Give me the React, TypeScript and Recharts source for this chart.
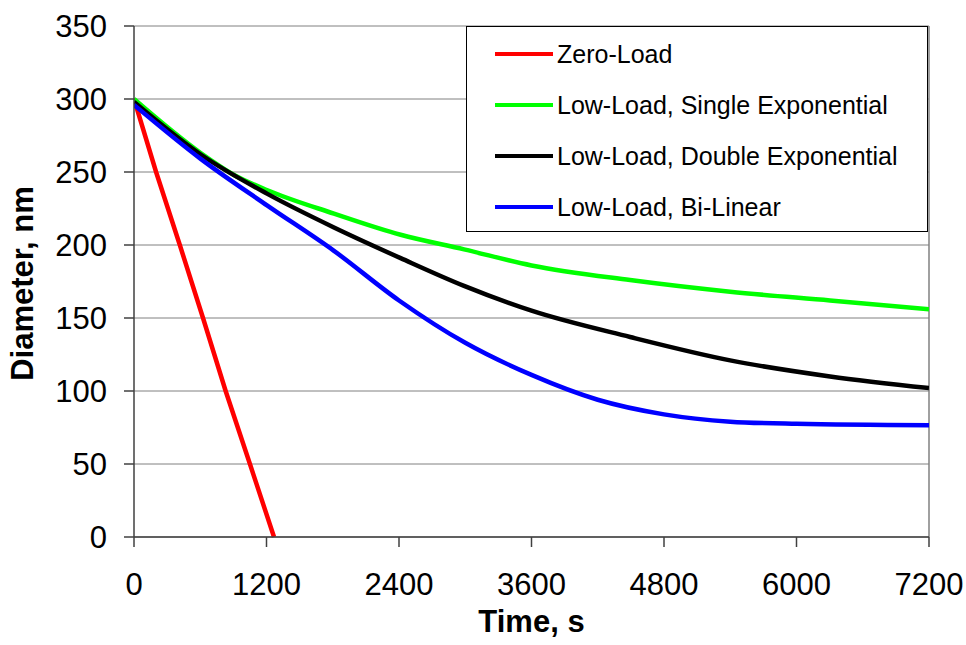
import React from "react";
import { LineChart, Line, XAxis, YAxis, CartesianGrid, Legend, ReferenceLine } from "recharts";

const FONT = '"Liberation Sans", Arial, Helvetica, sans-serif';

const timeTicks = [0, 1200, 2400, 3600, 4800, 6000, 7200];
const diameterTicks = [0, 50, 100, 150, 200, 250, 300, 350];

const zeroLoadTime = [0, 200, 415, 625, 830, 1050, 1268];
const zeroLoadDiameter = [300, 250, 200, 150, 100, 50, 0];

const singleExpTime = [0, 604, 906, 1208, 1811, 2415, 2989, 3600, 4493, 5399, 6304, 7200];
const singleExpDiameter = [300, 263, 248, 237.5, 221.5, 207, 197, 186, 176, 168, 162, 156];

const doubleExpTime = [0, 604, 1208, 1811, 2415, 2989, 3600, 4493, 5399, 6304, 7200];
const doubleExpDiameter = [298, 262, 235, 212, 191, 172, 155, 137, 121, 110, 102];

const biLinearTime = [0, 604, 1208, 1811, 2400, 3000, 3600, 4200, 4800, 5400, 6000, 7200];
const biLinearDiameter = [296, 259, 227, 196, 162, 133, 111, 94, 84, 79, 77.5, 76.5];

const seriesNames = [
  "Zero-Load",
  "Low-Load, Single Exponential",
  "Low-Load, Double Exponential",
  "Low-Load, Bi-Linear",
];
const seriesColors = ["#ff0000", "#00ff00", "#000000", "#0000ff"];

const toPoints = (ts: number[], ds: number[]) => ts.map((t, i) => ({ t, d: ds[i] }));

const seriesData = [
  toPoints(zeroLoadTime, zeroLoadDiameter),
  toPoints(singleExpTime, singleExpDiameter),
  toPoints(doubleExpTime, doubleExpDiameter),
  toPoints(biLinearTime, biLinearDiameter),
];

const renderLegend = (props: any) => {
  const payload = [...(props.payload || [])].sort(
    (a: any, b: any) => seriesNames.indexOf(a.value) - seriesNames.indexOf(b.value)
  );
  return (
    <div
      style={{
        position: "relative",
        width: 462,
        height: 206,
        boxSizing: "border-box",
        border: "1px solid #000",
        background: "#fff",
        fontFamily: FONT,
      }}
    >
      {payload.map((entry: any, i: number) => (
        <div
          key={i}
          style={{
            position: "absolute",
            left: 28,
            top: 27 + i * 51 - 15,
            height: 30,
            display: "flex",
            alignItems: "center",
            whiteSpace: "nowrap",
          }}
        >
          <div style={{ width: 58, height: 4, background: entry.color }} />
          <span style={{ marginLeft: 4, fontSize: 25, color: "#000", lineHeight: "30px" }}>
            {entry.value}
          </span>
        </div>
      ))}
    </div>
  );
};

const YLabel = (props: any) => {
  const vb = props.viewBox || { x: 0, y: 26, width: 134, height: 511 };
  const cy = vb.y + vb.height / 2 + 2;
  return (
    <text
      x={33}
      y={cy}
      transform={`rotate(-90, 33, ${cy})`}
      textAnchor="middle"
      fontFamily={FONT}
      fontWeight="bold"
      fontSize={31}
      fill="#000"
    >
      Diameter, nm
    </text>
  );
};

export default function App() {
  return (
    <div style={{ position: "absolute", left: 0, top: 0, background: "#fff" }}>
      <LineChart
        width={966}
        height={645}
        margin={{ top: 26, right: 37, bottom: 0, left: 0 }}
        style={{ fontFamily: FONT }}
      >
        <CartesianGrid horizontal vertical={false} stroke="#808080" strokeWidth={1} />
        <ReferenceLine x={7200} stroke="#808080" strokeWidth={1.5} />
        <XAxis
          type="number"
          dataKey="t"
          domain={[0, 7200]}
          ticks={timeTicks}
          allowDataOverflow
          interval={0}
          height={108}
          tickSize={10}
          tickMargin={26}
          axisLine={{ stroke: "#404040", strokeWidth: 1.5 }}
          tickLine={{ stroke: "#404040", strokeWidth: 1.5 }}
          tick={{ fill: "#000", fontSize: 31, fontFamily: FONT }}
          label={{
            value: "Time, s",
            position: "insideBottom",
            offset: 13,
            fill: "#000",
            fontSize: 31,
            fontWeight: "bold",
            fontFamily: FONT,
          }}
        />
        <YAxis
          type="number"
          dataKey="d"
          domain={[0, 350]}
          ticks={diameterTicks}
          interval={0}
          width={134}
          tickSize={10}
          tickMargin={17}
          axisLine={{ stroke: "#404040", strokeWidth: 1.5 }}
          tickLine={{ stroke: "#404040", strokeWidth: 1.5 }}
          tick={{ fill: "#000", fontSize: 31, fontFamily: FONT }}
          label={<YLabel />}
        />
        <Legend
          layout="vertical"
          align="center"
          verticalAlign="middle"
          content={renderLegend}
          wrapperStyle={{ position: "absolute", left: 466, top: 26, width: 462, height: 206 }}
        />
        {seriesData.map((data, i) => (
          <Line
            key={seriesNames[i]}
            data={data}
            dataKey="d"
            name={seriesNames[i]}
            type={i === 0 ? "linear" : "monotone"}
            stroke={seriesColors[i]}
            strokeWidth={4.5}
            dot={false}
            activeDot={false}
            isAnimationActive={false}
          />
        ))}
      </LineChart>
    </div>
  );
}
